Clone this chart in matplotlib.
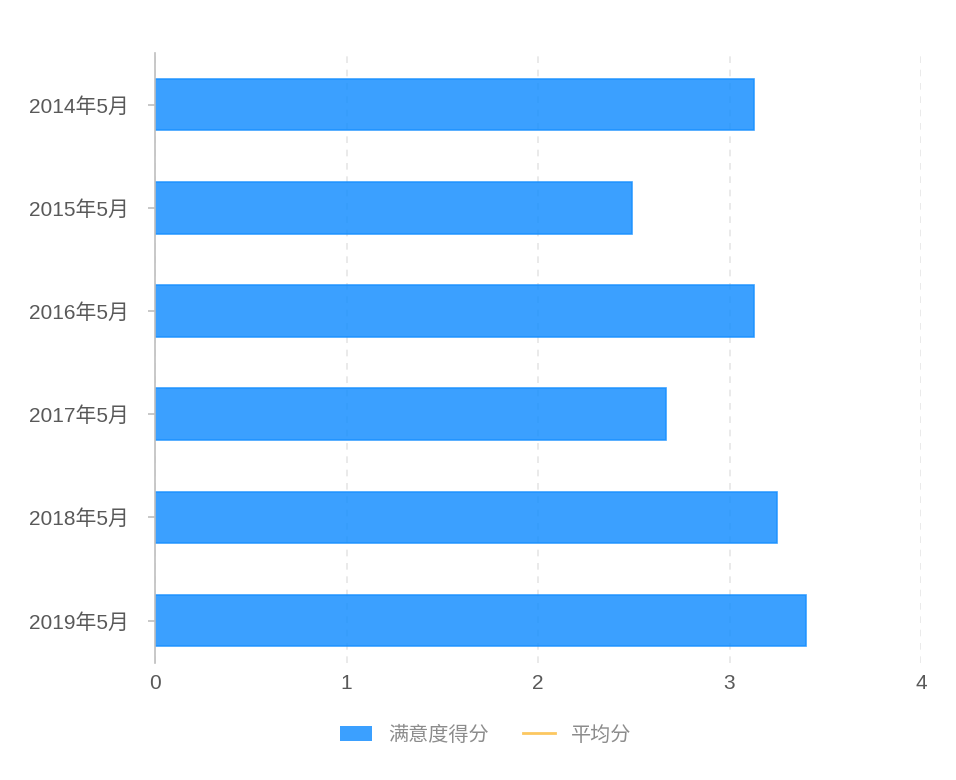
import matplotlib
matplotlib.use('Agg')
import matplotlib.pyplot as plt
from matplotlib.patches import Patch
from matplotlib.lines import Line2D

plt.rcParams['font.family'] = ['Liberation Sans', 'Noto Sans CJK SC', 'DejaVu Sans']

# data
months = ['2014年5月', '2015年5月', '2016年5月', '2017年5月', '2018年5月', '2019年5月']
scores = [3.13, 2.49, 3.13, 2.67, 3.25, 3.40]
x_ticks = [0, 1, 2, 3, 4]

bar_color = '#1890ff'
avg_color = '#fcc760'

fig = plt.figure(figsize=(9.56, 7.8), dpi=100)
ax = fig.add_axes([155 / 956, 1 - 663 / 780, (921 - 155) / 956, (663 - 53) / 780])

ypos = list(range(len(months)))
ax.barh(ypos, scores, height=0.5, color=bar_color, alpha=0.85,
        edgecolor=bar_color, linewidth=1.2, zorder=3)

ax.set_xlim(0, 4)
ax.set_ylim(5.41, -0.50)
ax.set_xticks(x_ticks)
ax.set_xticklabels([str(t) for t in x_ticks])
ax.set_yticks(ypos)
ax.set_yticklabels(months)

ax.grid(axis='x', color='#e6e6e6', linestyle=(0, (4, 4)), linewidth=1.2, zorder=1)
ax.set_axisbelow(True)

for s in ['top', 'right', 'bottom']:
    ax.spines[s].set_visible(False)
ax.spines['left'].set_color('#bfbfbf')
ax.spines['left'].set_linewidth(1.2)
ax.spines['left'].set_zorder(4)

ax.tick_params(axis='x', length=0, pad=8, labelsize=15, labelcolor='#595959')
ax.tick_params(axis='y', length=5, width=1.2, color='#bfbfbf', pad=14,
               labelsize=15, labelcolor='#595959')

handles = [Patch(facecolor=bar_color, alpha=0.85, edgecolor='none', label='满意度得分'),
           Line2D([0], [0], color=avg_color, linewidth=2, label='平均分')]
leg = fig.legend(handles=handles, loc='center', bbox_to_anchor=(0.508, 1 - 735 / 780),
                 ncol=2, frameon=False, fontsize=14.5, handlelength=1.6,
                 handletextpad=0.8, columnspacing=1.7)
for t in leg.get_texts():
    t.set_color('#8c8c8c')

fig.savefig('out.png', dpi=100)
